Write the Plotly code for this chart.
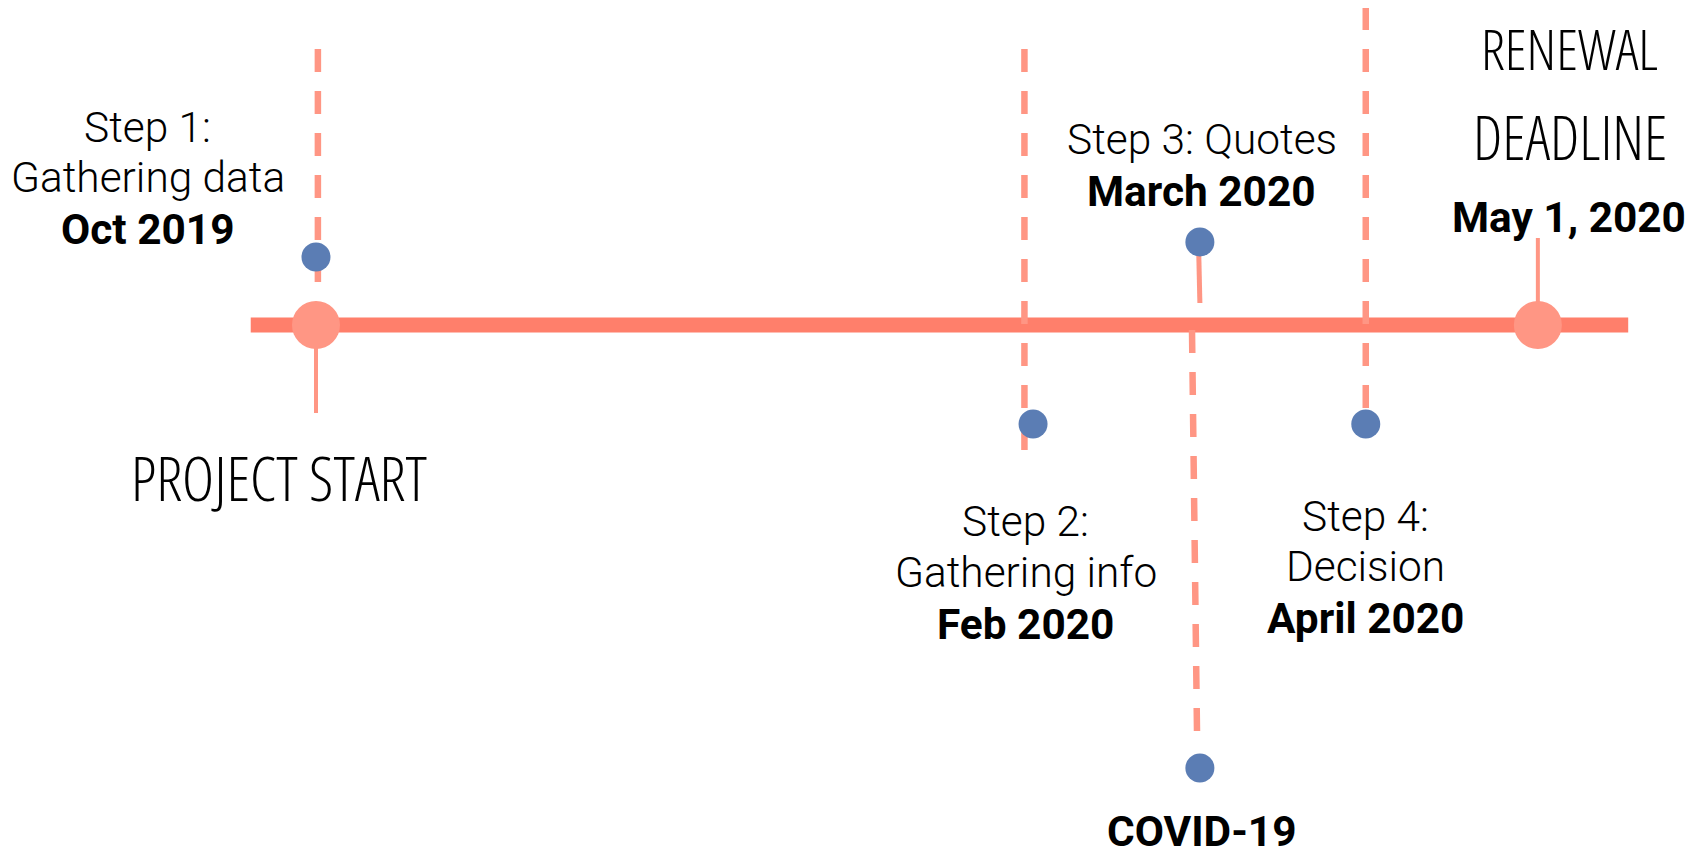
import plotly.graph_objects as go

# ---------------- data ----------------
# main timeline bar
timeline_span = ["2019-09-19T15:00", "2020-05-16T18:00"]

# big milestone circles
milestone_dates = ["2019-10-01", "2020-05-01"]
milestone_levels = [0, 0]

# solid stems of the milestones (date, from level, to level)
milestone_stem_dates = ["2019-10-01", "2020-05-01"]
milestone_stem_from = [0, 87]
milestone_stem_to = [-88, 0]

# blue event dots
event_names = ["Step 1", "Step 2", "Step 3", "COVID-19", "Step 4"]
event_dates = ["2019-10-01", "2020-02-03", "2020-03-03T02:00", "2020-03-03T02:00", "2020-04-01"]
event_levels = [68, -99, 83, -443, -99]

# dashed guide lines (start date, end date, start level, end level)
guide_start_dates = ["2019-10-01T08:00", "2020-02-01T12:00", "2020-04-01", "2020-03-01T17:00"]
guide_end_dates = ["2019-10-01T08:00", "2020-02-01T12:00", "2020-04-01", "2020-03-02T14:00"]
guide_start_levels = [276, 276, 318, -5]
guide_end_levels = [41, -127, -85, -407]

# short solid connector under Step 3
connector_dates = ["2020-03-02T20:00", "2020-03-03T02:00"]
connector_levels = [85, 22]

# text labels
label_dates = ["2019-09-01T17:00", "2019-09-01T17:00", "2019-09-01T17:00",
               "2020-02-01T18:00", "2020-02-01T18:00", "2020-02-01T18:00",
               "2020-03-03T10:00", "2020-03-03T10:00",
               "2020-04-01", "2020-04-01", "2020-04-01",
               "2020-03-03T10:00",
               "2020-05-06T12:00"]
label_levels = [198, 148, 96,
                -196, -247, -299,
                186, 134,
                -191, -241, -293,
                -506,
                108]
label_texts = ["Step 1:", "Gathering data", "Oct 2019",
               "Step 2:", "Gathering info", "Feb 2020",
               "Step 3: Quotes", "March 2020",
               "Step 4:", "Decision", "April 2020",
               "COVID-19",
               "May 1, 2020"]
label_bold = [False, False, True,
              False, False, True,
              False, True,
              False, False, True,
              True,
              True]

# hand-lettered milestone titles
title_dates = ["2019-09-24T14:00", "2020-05-06T14:00", "2020-05-06T14:00"]
title_levels = [-152, 277, 188]
title_texts = ["PROJECT START", "RENEWAL", "DEADLINE"]

x_range = ["2019-08-08T07:30", "2020-05-30T20:00"]
y_range = [-537, 317]

# ---------------- style ----------------
MAIN = "#FF7F6B"
SOFT = "#FF9684"
BLUE = "#5B7DB4"

fig = go.Figure()

fig.add_trace(go.Scatter(x=timeline_span, y=[0, 0], mode="lines",
                         line=dict(color=MAIN, width=15), hoverinfo="skip"))

for d, y0, y1 in zip(milestone_stem_dates, milestone_stem_from, milestone_stem_to):
    fig.add_trace(go.Scatter(x=[d, d], y=[y0, y1], mode="lines",
                             line=dict(color=SOFT, width=4), hoverinfo="skip"))

for xs, xe, ys, ye in zip(guide_start_dates, guide_end_dates, guide_start_levels, guide_end_levels):
    fig.add_trace(go.Scatter(x=[xs, xe], y=[ys, ye], mode="lines",
                             line=dict(color=SOFT, width=6.5, dash="23px,19px"),
                             hoverinfo="skip"))

fig.add_trace(go.Scatter(x=connector_dates, y=connector_levels, mode="lines",
                         line=dict(color=SOFT, width=5), hoverinfo="skip"))

fig.add_trace(go.Scatter(x=milestone_dates, y=milestone_levels, mode="markers",
                         marker=dict(color=SOFT, size=48, line=dict(width=0)),
                         hoverinfo="skip"))

fig.add_trace(go.Scatter(x=event_dates, y=event_levels, mode="markers",
                         marker=dict(color=BLUE, size=29, line=dict(width=0)),
                         text=event_names, hoverinfo="text"))

annotations = []
for d, lv, t, b in zip(label_dates, label_levels, label_texts, label_bold):
    annotations.append(dict(
        x=d, y=lv, xref="x", yref="y", text=t, showarrow=False,
        xanchor="center", yanchor="middle",
        font=dict(family="Roboto", size=42.4, color="#000000",
                  weight=700 if b else 300)))
title_sizes = [61, 56, 60]
for d, lv, t, s in zip(title_dates, title_levels, title_texts, title_sizes):
    annotations.append(dict(
        x=d, y=lv, xref="x", yref="y",
        text="<span style='font-stretch:75%'>" + t + "</span>",
        showarrow=False, xanchor="center", yanchor="middle",
        font=dict(family="Open Sans", size=s, color="#000000", weight=300)))

fig.update_layout(
    width=1701, height=854,
    margin=dict(l=0, r=0, t=0, b=0),
    paper_bgcolor="white", plot_bgcolor="white",
    showlegend=False,
    annotations=annotations,
    xaxis=dict(type="date", range=x_range, visible=False, fixedrange=True),
    yaxis=dict(range=y_range, visible=False, fixedrange=True),
)

fig.write_html("out.html")
